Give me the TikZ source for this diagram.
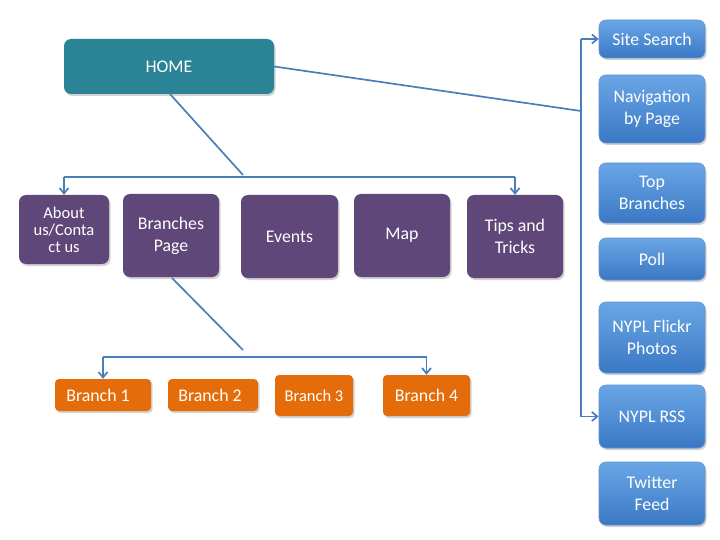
\documentclass[tikz,border=0pt]{standalone}
\usepackage{fontspec}
\setmainfont{Carlito}
\usetikzlibrary{arrows.meta,shadows}
\definecolor{teal1}{HTML}{2B8396}
\definecolor{purp}{HTML}{5F4879}
\definecolor{orng}{HTML}{E46C0A}
\definecolor{blueT}{HTML}{6AA6E6}
\definecolor{blueB}{HTML}{3A78C4}
\definecolor{lnc}{HTML}{4A7EBB}
\tikzset{
  bx/.style={rounded corners=7pt, text=white, align=center, inner sep=2pt,
     font=\fontsize{17.8}{22}\selectfont, drop shadow={shadow xshift=1.5pt,shadow yshift=-2pt,opacity=0.35}},
  homebox/.style={bx, fill=teal1},
  pbox/.style={bx, fill=purp},
  obox/.style={bx, fill=orng, rounded corners=4pt},
  bbox/.style={bx, top color=blueT, bottom color=blueB, draw=blueB!80!white, line width=0.6pt},
  conn/.style={draw=lnc, line width=1.7pt},
  arr/.style={conn, -{Straight Barb[length=5.5pt,width=9pt]}},
}
\newcommand{\boxat}[7]{\node[#6, minimum width={#4-#2}, minimum height={#5-#3}] (#1) at ({(#2+#4)/2},{(#3+#5)/2}) {#7};}
\begin{document}
\begin{tikzpicture}[x=1pt,y=-1pt]
\useasboundingbox[fill=white] (0,0) rectangle (720,540);
\boxat{home}{64}{39}{274}{94}{homebox}{HOME}
\boxat{about}{19}{195}{109}{264}{pbox,font=\fontsize{16.5}{17}\selectfont}{About\\us/Conta\\ct us}
\boxat{bpage}{123}{194}{219}{277}{pbox}{Branches\\Page}
\boxat{events}{241}{195}{338}{278}{pbox}{Events}
\boxat{map}{354}{194}{450}{277}{pbox}{Map}
\boxat{tips}{467}{195}{563}{278}{pbox}{Tips and\\Tricks}
\boxat{b1}{55}{379}{151}{411}{obox}{Branch 1\hspace{10pt}}
\boxat{b2}{168}{379}{258}{411}{obox}{Branch 2\hspace{6pt}}
\boxat{b3}{275}{375}{353}{416}{obox,font=\fontsize{16.5}{20}\selectfont}{Branch 3}
\boxat{b4}{383}{375}{470}{416}{obox}{Branch 4}
\boxat{site}{599}{20}{705}{58}{bbox}{Site Search}
\boxat{nav}{599}{75}{705}{143}{bbox}{Navigation\\by Page}
\boxat{top}{599}{163}{705}{223}{bbox}{Top\\Branches}
\boxat{poll}{599}{238}{705}{280}{bbox}{Poll}
\boxat{flickr}{599}{302}{705}{373}{bbox}{NYPL Flickr\\Photos}
\boxat{rss}{599}{385}{705}{448}{bbox}{NYPL RSS}
\boxat{tw}{599}{462}{705}{525}{bbox}{Twitter\\Feed}
% home to top level
\coordinate (hbar) at (243,175);
\coordinate (bar) at (0,177);
\draw[conn] (170,94) -- (hbar);
\draw[conn] (about.north |- bar) -- (tips.north |- bar);
\draw[arr] (about.north |- bar) -- (about.north);
\draw[arr] (tips.north |- bar) -- (tips.north);
% branches
\coordinate (bbar) at (243,350);
\coordinate (bar2) at (0,357);
\draw[conn] (172,278) -- (bbar);
\draw[conn] (b1.north |- bar2) -- (b4.north |- bar2);
\draw[arr] (b1.north |- bar2) -- (b1.north);
\draw[arr] (b4.north |- bar2) -- (b4.north);
% right rail
\coordinate (rail) at (581,111);
\draw[conn] (home.east) -- (rail);
\draw[conn] (rail |- site.west) -- (rail |- rss.west);
\draw[arr] (rail |- site.west) -- (site.west);
\draw[arr] (rail |- rss.west) -- (rss.west);
\end{tikzpicture}
\end{document}
